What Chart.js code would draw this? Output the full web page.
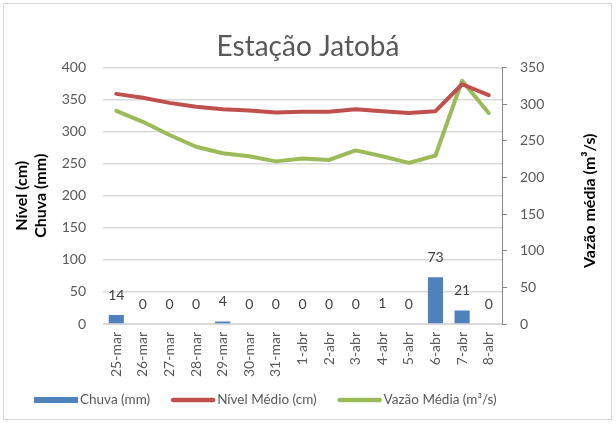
<!DOCTYPE html>
<html>
<head>
<meta charset="utf-8">
<script src="https://cdn.jsdelivr.net/npm/chart.js@4"></script>
<style>
  body { margin: 0; background: #fff; }
  #wrap { position: absolute; left: 0; top: 0; width: 616px; height: 424px; }
  #frame { position: absolute; left: 3px; top: 3px; width: 607px; height: 415px; border: 1.5px solid #d9d9d9; pointer-events: none; }
</style>
</head>
<body>
<div id="wrap"><canvas id="chart"></canvas></div>
<div id="frame"></div>
<script>
const labels = ['25-mar', '26-mar', '27-mar', '28-mar', '29-mar', '30-mar', '31-mar',
    '1-abr', '2-abr', '3-abr', '4-abr', '5-abr', '6-abr', '7-abr', '8-abr'];
const chuva = [14, 0, 0, 0, 4, 0, 0, 0, 0, 0, 1, 0, 73, 21, 0];
const nivel = [359, 353, 345, 339, 335, 333, 330, 331, 331, 335, 332, 329, 332, 374, 357];
const vazao = [291, 276, 258, 242, 233, 229, 222, 226, 224, 237, 229, 220, 230, 332, 288];
const leftTicks = [0, 400, 50];
const rightTicks = [0, 350, 50];

const FONT = 'Lato, "Open Sans", sans-serif';
const GRAY = '#595959';

// rótulos de dados em cima das barras
const barLabels = {
    id: 'barLabels',
    afterDatasetsDraw(chart) {
        const ctx = chart.ctx;
        const meta = chart.getDatasetMeta(0);
        ctx.save();
        ctx.font = '14px ' + FONT;
        ctx.fillStyle = '#404040';
        ctx.textAlign = 'center';
        ctx.textBaseline = 'middle';
        meta.data.forEach((bar, i) => {
            ctx.fillText(String(chuva[i]), bar.x, bar.y - 20);
        });
        ctx.restore();
    }
};

// título do eixo direito (de baixo para cima) e legenda
const extras = {
    id: 'extras',
    afterDraw(chart) {
        const ctx = chart.ctx;
        const area = chart.chartArea;
        ctx.save();
        ctx.translate(590, (area.top + area.bottom) / 2 + 5);
        ctx.rotate(-Math.PI / 2);
        ctx.font = 'bold 16px ' + FONT;
        ctx.fillStyle = '#000';
        ctx.textAlign = 'center';
        ctx.textBaseline = 'middle';
        ctx.fillText('Vazão média (m³/s)', 0, 0);
        ctx.restore();

        // legenda
        ctx.save();
        ctx.font = '13.5px ' + FONT;
        ctx.textBaseline = 'middle';
        ctx.textAlign = 'left';
        let x = 34;
        const y = 400;
        chart.data.datasets.forEach(ds => {
            if (ds.type === 'bar') {
                ctx.fillStyle = ds.backgroundColor;
                ctx.fillRect(x, y - 3, 44, 6);
            } else {
                ctx.strokeStyle = ds.borderColor;
                ctx.lineWidth = 4.5;
                ctx.lineCap = 'round';
                ctx.beginPath();
                ctx.moveTo(x + 2, y);
                ctx.lineTo(x + 42, y);
                ctx.stroke();
            }
            x += 46;
            ctx.fillStyle = GRAY;
            ctx.fillText(ds.label, x, y);
            x += ctx.measureText(ds.label).width + 21;
        });
        ctx.restore();
    }
};

const ctx = document.getElementById('chart');
new Chart(ctx, {
    data: {
        labels: labels,
        datasets: [{
            type: 'bar',
            label: 'Chuva (mm)',
            data: chuva,
            backgroundColor: '#4f81bd',
            yAxisID: 'y',
            categoryPercentage: 1,
            barPercentage: 0.57
        }, {
            type: 'line',
            label: 'Nível Médio (cm)',
            data: nivel,
            borderColor: '#c0504d',
            backgroundColor: '#c0504d',
            borderWidth: 4,
            borderCapStyle: 'round',
            borderJoinStyle: 'round',
            pointRadius: 0,
            tension: 0,
            yAxisID: 'y'
        }, {
            type: 'line',
            label: 'Vazão Média (m³/s)',
            data: vazao,
            borderColor: '#9bbb59',
            backgroundColor: '#9bbb59',
            borderWidth: 4,
            borderCapStyle: 'round',
            borderJoinStyle: 'round',
            pointRadius: 0,
            tension: 0,
            yAxisID: 'y1'
        }]
    },
    options: {
        responsive: true,
        maintainAspectRatio: false,
        animation: false,
        layout: { padding: { top: 0, bottom: 44, left: 0, right: 0 } },
        plugins: {
            tooltip: { enabled: false },
            legend: { display: false },
            title: {
                display: true,
                text: 'Estação Jatobá',
                color: GRAY,
                font: { family: FONT, size: 28, weight: 'normal', lineHeight: 1.2 },
                padding: { top: 30, bottom: 4 }
            }
        },
        scales: {
            x: {
                grid: { display: false, drawTicks: false },
                border: { color: '#d9d9d9' },
                ticks: {
                    color: GRAY,
                    font: { family: FONT, size: 14 },
                    minRotation: 90,
                    maxRotation: 90,
                    padding: 8,
                    autoSkip: false
                },
                afterFit(scale) { scale.height = 56; }
            },
            y: {
                position: 'left',
                min: leftTicks[0],
                max: leftTicks[1],
                ticks: {
                    stepSize: leftTicks[2],
                    color: GRAY,
                    font: { family: FONT, size: 14 },
                    padding: 17
                },
                grid: { color: '#d9d9d9', drawTicks: false, lineWidth: 1.5 },
                border: { display: false },
                title: {
                    display: true,
                    text: ['Nível (cm)', 'Chuva (mm)'],
                    color: '#000',
                    font: { family: FONT, size: 16, weight: 'bold', lineHeight: 1.15 },
                    padding: { top: 13, bottom: 0 }
                },
                afterFit(scale) { scale.width = 103; }
            },
            y1: {
                position: 'right',
                min: rightTicks[0],
                max: rightTicks[1],
                ticks: {
                    stepSize: rightTicks[2],
                    color: GRAY,
                    font: { family: FONT, size: 14 },
                    padding: 13
                },
                grid: { drawOnChartArea: false, drawTicks: true, tickLength: 5, color: '#868686' },
                border: { color: '#868686' },
                afterFit(scale) { scale.width = 114; }
            }
        }
    },
    plugins: [barLabels, extras]
});
</script>
</body>
</html>
